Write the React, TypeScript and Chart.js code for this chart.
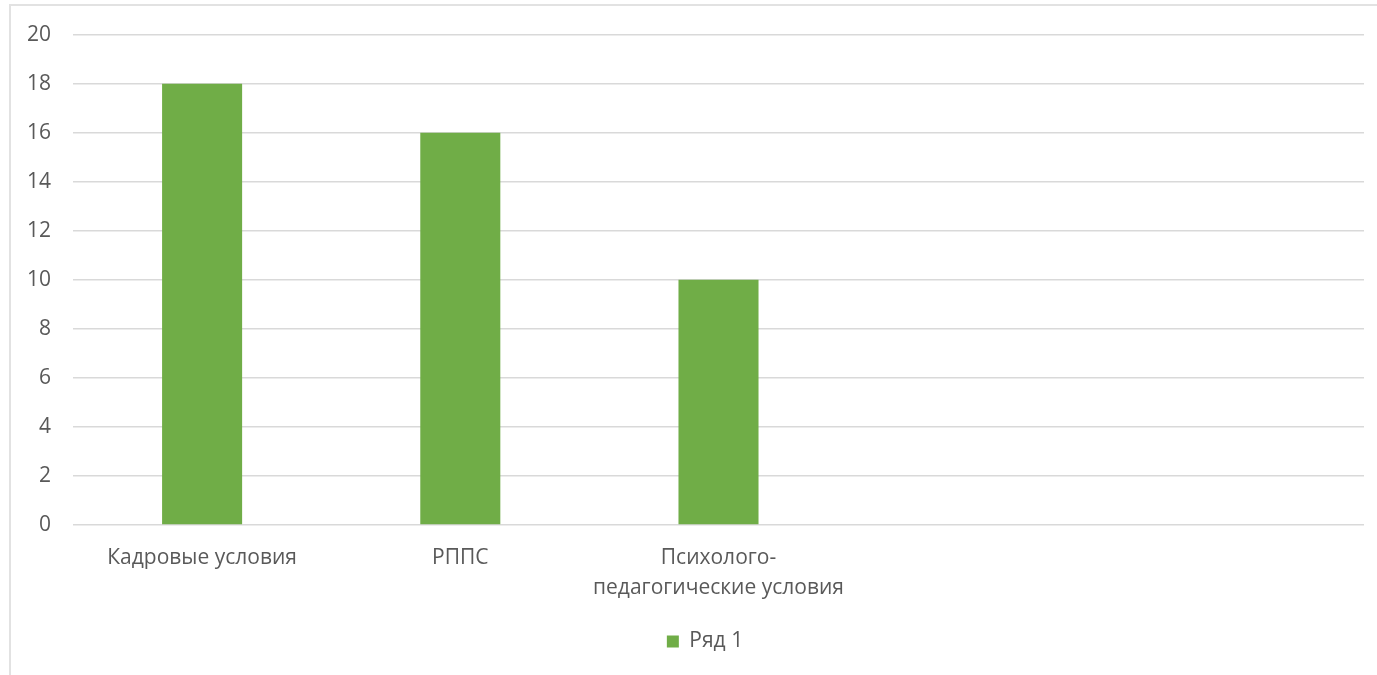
import React, { useEffect, useRef } from "react";
import { Chart, registerables } from "chart.js";

Chart.register(...registerables);

const categories: (string | string[])[] = [
  "Кадровые условия",
  "РППС",
  ["Психолого-", "педагогические условия"],
  "",
  "",
];
const seriesName = "Ряд 1";
const seriesValues: (number | null)[] = [18, 16, 10, null, null];
const yMin = 0;
const yMax = 20;
const yStep = 2;

const FONT = "'Open Sans', sans-serif";
const FS = 21;
const TEXT = "#595959";
const GRID = "#d9d9d9";
const BAR = "#70ad47";

const legendShift = {
  id: "legendShift",
  afterLayout(chart: any) {
    const l = chart.legend;
    if (l) {
      l.left += 13;
      l.right += 13;
    }
  },
};

export default function App() {
  const ref = useRef<HTMLCanvasElement | null>(null);

  useEffect(() => {
    if (!ref.current) return;
    const chart = new Chart(ref.current, {
      type: "bar",
      data: {
        labels: categories,
        datasets: [
          {
            label: seriesName,
            data: seriesValues,
            backgroundColor: BAR,
            borderWidth: 0,
            categoryPercentage: 1,
            barPercentage: 0.31,
          },
        ],
      },
      plugins: [legendShift],
      options: {
        animation: false,
        responsive: false,
        maintainAspectRatio: false,
        layout: { padding: { top: 34, left: 20, right: 13, bottom: 13 } },
        plugins: {
          tooltip: { enabled: false },
          legend: {
            position: "bottom",
            labels: {
              boxWidth: 12,
              boxHeight: 12,
              color: TEXT,
              font: { family: FONT, size: FS },
              padding: 10,
            },
          },
        },
        scales: {
          x: {
            grid: { display: false, drawTicks: false },
            border: { display: false },
            ticks: {
              color: TEXT,
              font: { family: FONT, size: FS, lineHeight: 30 / FS },
              padding: 18,
              maxRotation: 0,
              autoSkip: false,
            },
            afterFit: (s: any) => {
              s.height = 96;
            },
          },
          y: {
            min: yMin,
            max: yMax,
            grid: { color: GRID, lineWidth: 1.5, drawTicks: false },
            border: { display: false },
            ticks: {
              stepSize: yStep,
              color: TEXT,
              font: { family: FONT, size: FS },
              padding: 22,
            },
            afterFit: (s: any) => {
              s.width = 53;
            },
          },
        },
      },
    });
    return () => chart.destroy();
  }, []);

  return (
    <div
      style={{
        position: "fixed",
        left: 0,
        top: 0,
        width: 1377,
        height: 675,
        overflow: "hidden",
        background: "#fff",
      }}
    >
      <div
        style={{
          position: "absolute",
          left: 9,
          top: 4,
          width: 1420,
          height: 720,
          border: "2px solid #e2e2e2",
        }}
      />
      <canvas
        ref={ref}
        width={1377}
        height={675}
        style={{ position: "absolute", left: 0, top: 0, width: 1377, height: 675 }}
      />
    </div>
  );
}
